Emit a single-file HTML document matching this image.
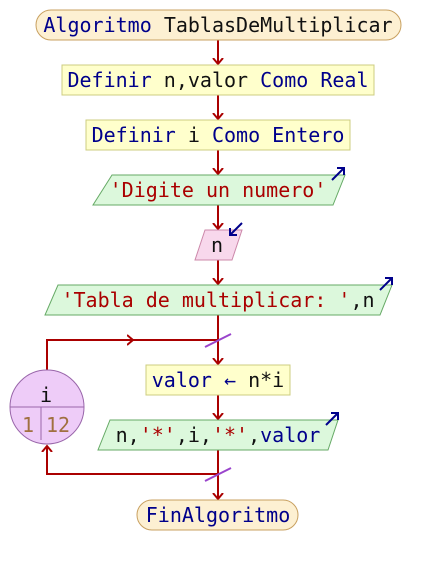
<!DOCTYPE html>
<html><head><meta charset="utf-8"><style>html,body{margin:0;padding:0;background:#fff}svg{display:block}text{font-family:"DejaVu Sans Mono","Liberation Mono",monospace;font-size:20px}</style></head><body>
<svg width="426" height="565" viewBox="0 0 426 565" xmlns="http://www.w3.org/2000/svg">
<defs><marker id="a" markerWidth="12" markerHeight="12" refX="6" refY="6" orient="auto" markerUnits="userSpaceOnUse"><path d="M0,1 L6,6 L0,11" fill="none" stroke="#aa0000" stroke-width="2"/></marker></defs>
<g stroke="#aa0000" stroke-width="2" fill="none">
<line x1="218" y1="40" x2="218" y2="64" marker-end="url(#a)"/>
<line x1="218" y1="95" x2="218" y2="119" marker-end="url(#a)"/>
<line x1="218" y1="150" x2="218" y2="174" marker-end="url(#a)"/>
<line x1="218" y1="205" x2="218" y2="229" marker-end="url(#a)"/>
<line x1="218" y1="260" x2="218" y2="284" marker-end="url(#a)"/>
<line x1="218" y1="315" x2="218" y2="364" marker-end="url(#a)"/>
<line x1="218" y1="395" x2="218" y2="419" marker-end="url(#a)"/>
<line x1="218" y1="450" x2="218" y2="499" marker-end="url(#a)"/>
<polyline points="47,370 47,340 218,340"/>
<line x1="47" y1="340" x2="133" y2="340" marker-end="url(#a)"/>
<polyline points="218,474 47,474 47,446"/>
<line x1="47" y1="474" x2="47" y2="446" marker-end="url(#a)"/>
</g>
<line x1="205" y1="347" x2="231" y2="334" stroke="#9944cc" stroke-width="2"/>
<line x1="205" y1="481" x2="231" y2="468" stroke="#9944cc" stroke-width="2"/>
<rect x="36" y="10" width="365" height="30" rx="15" fill="#fdf0d2" stroke="#c8a060"/>
<text x="218" y="32" text-anchor="middle"><tspan fill="#00008b">Algoritmo </tspan><tspan fill="#111">TablasDeMultiplicar</tspan></text>
<rect x="62" y="65" width="312" height="30" fill="#ffffcc" stroke="#cccc80"/>
<text x="218" y="87" text-anchor="middle" fill="#00008b">Definir <tspan fill="#111">n,valor</tspan> Como Real</text>
<rect x="86" y="120" width="264" height="30" fill="#ffffcc" stroke="#cccc80"/>
<text x="218" y="142" text-anchor="middle" fill="#00008b">Definir <tspan fill="#111">i</tspan> Como Entero</text>
<polygon points="112,175 345,175 333,205 93,205" fill="#dcf8dc" stroke="#66aa66"/>
<text x="218" y="197" text-anchor="middle" fill="#aa0000">'Digite un numero'</text>
<polygon points="205,230 242,230 232,260 195,260" fill="#f8d8ec" stroke="#cc88aa"/>
<text x="217" y="252" text-anchor="middle" fill="#111">n</text>
<polygon points="58,285 392,285 380,315 45,315" fill="#dcf8dc" stroke="#66aa66"/>
<text x="218" y="307" text-anchor="middle"><tspan fill="#aa0000">'Tabla de multiplicar: '</tspan><tspan fill="#111">,n</tspan></text>
<rect x="146" y="365" width="144" height="30" fill="#ffffcc" stroke="#cccc80"/>
<text x="218" y="387" text-anchor="middle"><tspan fill="#00008b">valor </tspan><tspan fill="#00008b">&#8592;</tspan><tspan fill="#111"> n*i</tspan></text>
<polygon points="110,420 338,420 328,450 98,450" fill="#dcf8dc" stroke="#66aa66"/>
<text x="218" y="442" text-anchor="middle"><tspan fill="#111">n,</tspan><tspan fill="#aa0000">'*'</tspan><tspan fill="#111">,i,</tspan><tspan fill="#aa0000">'*'</tspan><tspan fill="#111">,</tspan><tspan fill="#00008b">valor</tspan></text>
<rect x="137" y="500" width="161" height="30" rx="15" fill="#fdf0d2" stroke="#c8a060"/>
<text x="218" y="522" text-anchor="middle" fill="#00008b">FinAlgoritmo</text>
<circle cx="47" cy="407" r="37" fill="#eeccf8" stroke="#9966aa"/>
<line x1="10" y1="407" x2="84" y2="407" stroke="#9966aa"/>
<line x1="41" y1="407" x2="41" y2="440" stroke="#9966aa"/>
<text x="46" y="402" text-anchor="middle" fill="#111">i</text>
<text x="28" y="432" text-anchor="middle" fill="#a07040">1</text>
<text x="58" y="432" text-anchor="middle" fill="#a07040">12</text>
<g stroke="#00008b" stroke-width="2" fill="none">
<path d="M332,180 L344,168 M337,168 L344,168 L344,175"/>
<path d="M242,223 L230,235 M230,228 L230,235 L237,235"/>
<path d="M380,290 L392,278 M385,278 L392,278 L392,285"/>
<path d="M326,425 L338,413 M331,413 L338,413 L338,420"/>
</g>
</svg>
</body></html>
